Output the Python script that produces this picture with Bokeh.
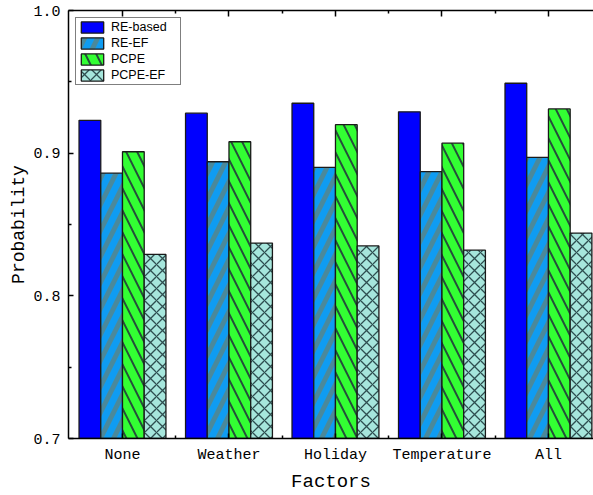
import numpy as np
from bokeh.plotting import figure
from bokeh.models import (FixedTicker, LinearAxis, Legend, LegendItem, Range1d,
                          NumeralTickFormatter, CustomJSTickFormatter)
from bokeh.embed import file_html
from bokeh.resources import INLINE

categories = ["None", "Weather", "Holiday", "Temperature", "All"]
series_names = ["RE-based", "RE-EF", "PCPE", "PCPE-EF"]
re_based = [0.923, 0.928, 0.935, 0.929, 0.949]
re_ef = [0.886, 0.894, 0.890, 0.887, 0.897]
pcpe = [0.901, 0.908, 0.920, 0.907, 0.931]
pcpe_ef = [0.829, 0.837, 0.835, 0.832, 0.844]
y_ticks = [0.7, 0.8, 0.9, 1.0]

TICK_FONT = "Liberation Mono"

p = figure(width=593, height=495,
           x_range=Range1d(0.493, 5.423), y_range=Range1d(0.7, 1.0),
           output_backend="svg", toolbar_location=None,
           min_border_left=68, min_border_right=0,
           min_border_top=10, min_border_bottom=57)
p.grid.visible = False
p.outline_line_color = None
p.background_fill_color = "white"
p.border_fill_color = "white"

centers = np.arange(1, len(categories) + 1)
bw = 0.204
offsets = [-1.5 * bw, -0.5 * bw, 0.5 * bw, 1.5 * bw]

styles = [
    dict(fill_color="#0000FF"),
    dict(fill_color="#0F9CF2", hatch_pattern="/", hatch_color="#55868C",
         hatch_weight=5, hatch_scale=26, hatch_alpha=0.85),
    dict(fill_color="#33FF33", hatch_pattern="\\", hatch_color="#24503A",
         hatch_weight=2, hatch_scale=22),
    dict(fill_color="#A6E6DC", hatch_pattern="x", hatch_color="#2E4E50",
         hatch_weight=1.3, hatch_scale=12),
]

items = []
for vals, off, st, name in zip([re_based, re_ef, pcpe, pcpe_ef], offsets, styles, series_names):
    r = p.vbar(x=centers + off, top=vals, bottom=0.7, width=bw,
               line_color="#1a1a1a", line_width=1.3, **st)
    items.append(LegendItem(label=name, renderers=[r]))

xt = FixedTicker(ticks=list(centers), minor_ticks=[c + 0.5 for c in centers[:-1]])
yt = FixedTicker(ticks=y_ticks, minor_ticks=[0.75, 0.85, 0.95])

xa = p.xaxis[0]
xa.ticker = xt
xa.major_label_overrides = {int(c): cat for c, cat in zip(centers, categories)}
xa.axis_label = "Factors"

ya = p.yaxis[0]
ya.ticker = yt
ya.formatter = NumeralTickFormatter(format="0.0")
ya.axis_label = "Probability"

for ax in (xa, ya):
    ax.axis_line_color = "black"
    ax.axis_line_width = 1.5
    ax.major_tick_in = 5
    ax.major_tick_out = 0
    ax.minor_tick_in = 3
    ax.minor_tick_out = 0
    ax.major_tick_line_color = "black"
    ax.minor_tick_line_color = "black"
    ax.major_tick_line_width = 1.5
    ax.minor_tick_line_width = 1.5
    ax.major_label_text_font = TICK_FONT
    ax.major_label_text_font_size = "15px"
    ax.major_label_text_color = "black"
    ax.axis_label_text_font = TICK_FONT
    ax.axis_label_text_font_style = "normal"
    ax.axis_label_text_color = "black"

xa.major_label_standoff = 8
xa.axis_label_text_font_size = "19px"
xa.axis_label_standoff = 4
ya.major_label_standoff = 8
ya.major_label_orientation = "horizontal"
ya.axis_label_text_font_size = "18px"
ya.axis_label_standoff = 1

top = LinearAxis(ticker=xt, formatter=CustomJSTickFormatter(code="return ''"),
                 major_label_standoff=0,
                 axis_line_color="black", axis_line_width=1.5,
                 major_tick_in=6, major_tick_out=0, minor_tick_in=3, minor_tick_out=0,
                 major_tick_line_color="black", minor_tick_line_color="black",
                 major_tick_line_width=1.5, minor_tick_line_width=1.5)
p.add_layout(top, "above")

legend = Legend(items=items, location="top_left", margin=7, padding=2, spacing=2,
                glyph_width=28, glyph_height=14, label_height=14, label_width=67,
                label_standoff=5,
                label_text_font="Liberation Sans", label_text_font_size="12.5px",
                label_text_color="black",
                border_line_color="black", border_line_width=1,
                background_fill_color="white", background_fill_alpha=1)
p.add_layout(legend)

open("out.html", "w").write(file_html(p, INLINE))
